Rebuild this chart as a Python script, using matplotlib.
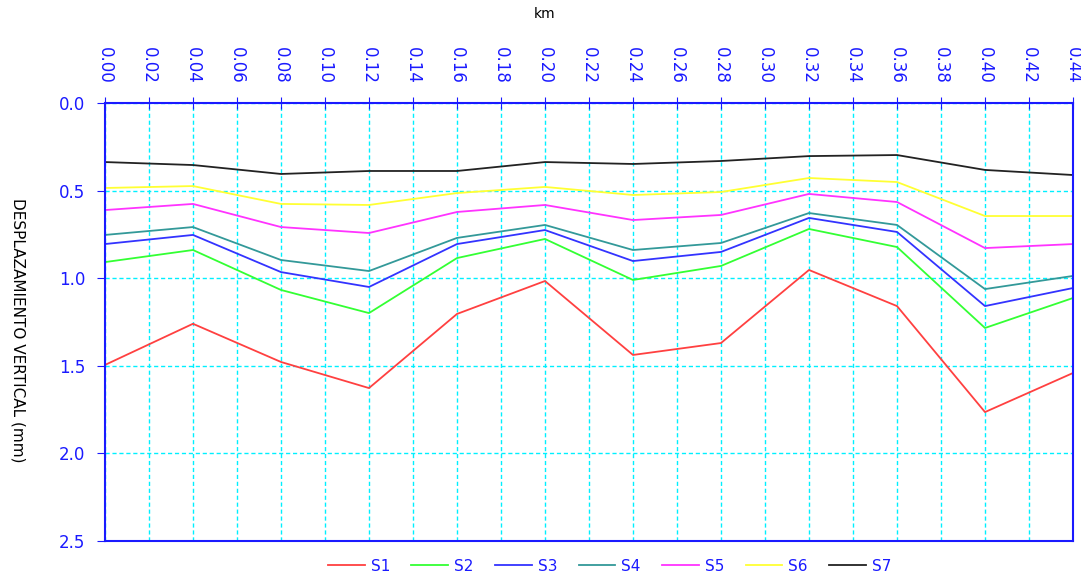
import matplotlib.pyplot as plt

km = [0.00, 0.04, 0.08, 0.12, 0.16, 0.20, 0.24, 0.28, 0.32, 0.36, 0.40, 0.44]

s1 = [1.495, 1.26, 1.478, 1.627, 1.204, 1.016, 1.438, 1.37, 0.953, 1.159, 1.764, 1.541]
s2 = [0.908, 0.839, 1.067, 1.199, 0.885, 0.776, 1.01, 0.93, 0.719, 0.822, 1.284, 1.113]
s3 = [0.805, 0.753, 0.965, 1.05, 0.805, 0.725, 0.902, 0.85, 0.656, 0.736, 1.159, 1.056]
s4 = [0.753, 0.708, 0.896, 0.959, 0.77, 0.696, 0.839, 0.799, 0.628, 0.696, 1.062, 0.987]
s5 = [0.611, 0.576, 0.708, 0.742, 0.622, 0.582, 0.668, 0.639, 0.519, 0.565, 0.828, 0.805]
s6 = [0.485, 0.474, 0.576, 0.582, 0.514, 0.479, 0.525, 0.508, 0.428, 0.451, 0.645, 0.645]
s7 = [0.337, 0.354, 0.405, 0.388, 0.388, 0.337, 0.348, 0.331, 0.303, 0.297, 0.382, 0.411]

names = ["S1", "S2", "S3", "S4", "S5", "S6", "S7"]
colors = ["#ff4040", "#33ff33", "#3333ff", "#339999", "#ff33ff", "#ffff33", "#222222"]

blue = "#1a1aff"

fig = plt.figure(figsize=(10.81, 5.80), dpi=100)
ax = fig.add_axes([0.0971, 0.0672, 0.8955, 0.7552])

for ys, name, c in zip([s1, s2, s3, s4, s5, s6, s7], names, colors):
    ax.plot(km, ys, color=c, lw=1.3, label=name)

ax.set_xlim(0, 0.44)
ax.set_ylim(2.5, 0)
ax.set_xticks([i * 0.02 for i in range(23)])
ax.set_xticklabels([f"{i * 0.02:.2f}" for i in range(23)], rotation=-90)
ax.set_yticks([0, 0.5, 1.0, 1.5, 2.0, 2.5])
ax.set_yticklabels(["0.0", "0.5", "1.0", "1.5", "2.0", "2.5"])

ax.xaxis.tick_top()
ax.xaxis.set_label_position("top")
ax.tick_params(axis="x", colors=blue, labelsize=12, direction="inout", length=8, pad=10)
ax.tick_params(axis="y", colors=blue, labelsize=12, direction="out", length=6, pad=8)

ax.grid(True, color="#00f0ff", linestyle=(0, (3, 2)), lw=1)
for side in ax.spines.values():
    side.set_color(blue)
    side.set_linewidth(1.5)

fig.text(0.504, 0.975, "km", ha="center", va="center", fontsize=10)
fig.text(0.017, 0.43, "DESPLAZAMIENTO VERTICAL (mm)", rotation=-90,
         ha="center", va="center", fontsize=11)

leg = fig.legend(loc="center", bbox_to_anchor=(0.564, 0.024), ncol=7,
                 frameon=False, fontsize=11, handlelength=2.4, handletextpad=0.4,
                 columnspacing=1.4)
for t in leg.get_texts():
    t.set_color(blue)

fig.savefig("out.png", dpi=100)
